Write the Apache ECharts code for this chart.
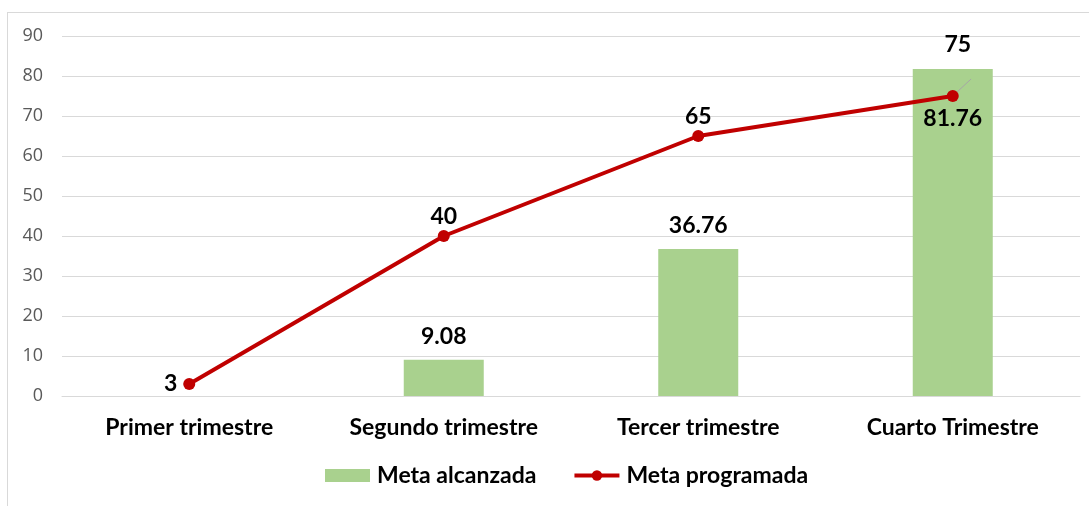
<!DOCTYPE html>
<html>
<head>
<meta charset="utf-8">
<script src="https://cdn.jsdelivr.net/npm/echarts@6/dist/echarts.min.js"></script>
<style>
  html, body { margin: 0; padding: 0; background: #fff; }
  #wrap { position: absolute; left: 0; top: 0; width: 1089px; height: 506px; }
  #frame { position: absolute; left: 7px; top: 12px; width: 1090px; height: 520px; border: 1px solid #D9D9D9; }
  #chart { position: absolute; left: 0; top: 0; width: 1089px; height: 506px; }
</style>
</head>
<body>
<div id="wrap">
  <div id="frame"></div>
  <div id="chart"></div>
</div>
<script>
// datos
const trimestres = ['Primer trimestre', 'Segundo trimestre', 'Tercer trimestre', 'Cuarto Trimestre'];
const metaAlcanzada = [null, 9.08, 36.76, 81.76];
const metaProgramada = [3, 40, 65, 75];
const yTicks = { min: 0, max: 90, interval: 10 };

const chart = echarts.init(document.getElementById('chart'));

const labelFont = {
  fontFamily: 'Lato, "Open Sans", sans-serif',
  fontWeight: 'bold',
  fontSize: 23,
  color: '#000'
};

const barData = metaAlcanzada.map((v, i) => {
  if (i === 3) {
    return { value: v, label: { position: 'insideTop', distance: 38 } };
  }
  return v;
});

const lineData = metaProgramada.map((v, i) => {
  if (i === 0) return { value: v, label: { position: 'left', distance: 6 } };
  if (i === 3) return { value: v, label: { position: 'top', distance: 34, offset: [5, 0] } };
  return v;
});

const option = {
  animation: false,
  grid: { left: 62, right: 9, top: 36, bottom: 110 },
  legend: {
    bottom: 14,
    left: 320,
    itemGap: 36,
    itemWidth: 45,
    itemHeight: 13,
    textStyle: Object.assign({ padding: [0, 0, 0, 2] }, labelFont),
    data: [
      { name: 'Meta alcanzada', icon: 'rect' },
      { name: 'Meta programada', lineStyle: { width: 4 } }
    ]
  },
  xAxis: {
    type: 'category',
    data: trimestres,
    axisLine: { lineStyle: { color: '#D9D9D9', width: 1 } },
    axisTick: { show: false },
    axisLabel: Object.assign({ margin: 20 }, labelFont)
  },
  yAxis: {
    type: 'value',
    min: yTicks.min,
    max: yTicks.max,
    interval: yTicks.interval,
    axisLine: { show: false },
    axisTick: { show: false },
    splitLine: { lineStyle: { color: '#D9D9D9', width: 1 } },
    axisLabel: { color: '#595959', fontSize: 18, fontFamily: '"Open Sans"', margin: 19 }
  },
  series: [
    {
      name: 'Meta alcanzada',
      type: 'bar',
      data: barData,
      barWidth: 80,
      itemStyle: { color: '#A9D18E' },
      label: Object.assign({ show: true, position: 'top', distance: 12 }, labelFont)
    },
    {
      name: 'Meta programada',
      type: 'line',
      data: lineData,
      symbol: 'circle',
      symbolSize: 12,
      lineStyle: { color: '#C00000', width: 4 },
      itemStyle: { color: '#C00000' },
      label: Object.assign({ show: true, position: 'top', distance: 2 }, labelFont),
      labelLine: { show: true, lineStyle: { color: '#A6A6A6', width: 1 } },
      z: 3
    }
  ]
};

chart.setOption(option);
</script>
</body>
</html>
